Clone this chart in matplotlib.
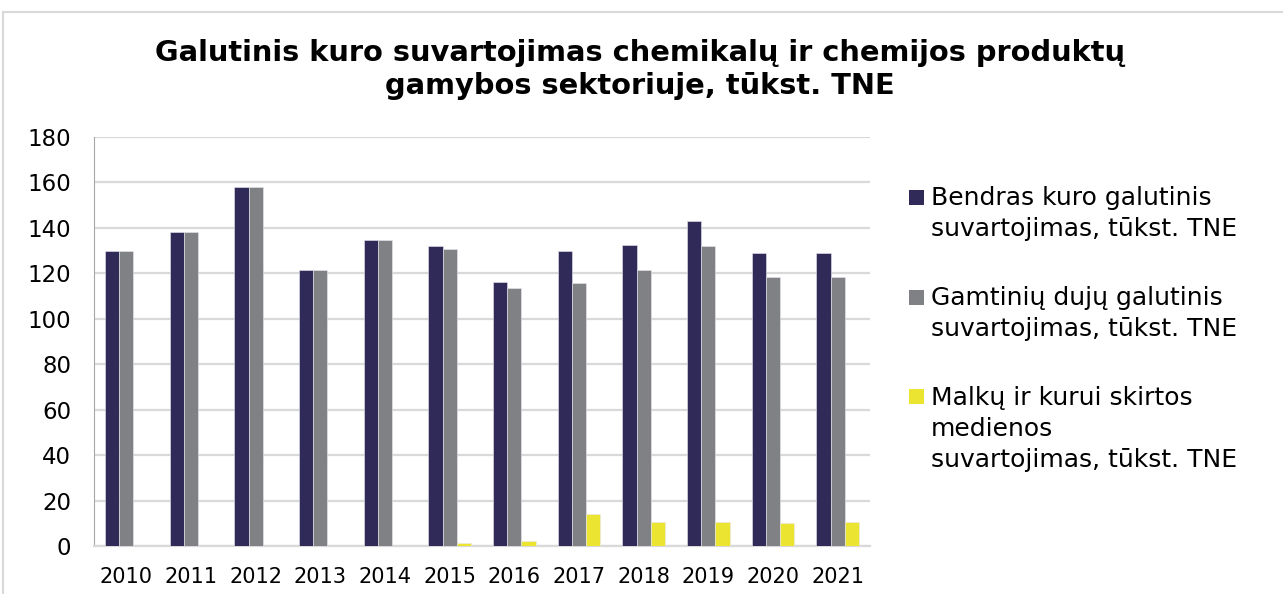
import matplotlib
matplotlib.use("Agg")
import matplotlib.pyplot as plt
import numpy as np
from matplotlib.lines import Line2D
from matplotlib.patches import Rectangle
from matplotlib.legend_handler import HandlerPatch

years = ["2010", "2011", "2012", "2013", "2014", "2015", "2016", "2017", "2018", "2019", "2020", "2021"]
bendras = [130.0, 138.3, 158.1, 121.6, 134.5, 132.2, 116.0, 130.0, 132.5, 143.0, 128.8, 129.1]
dujos = [130.0, 138.3, 158.1, 121.6, 134.5, 130.7, 113.4, 115.6, 121.4, 132.0, 118.4, 118.4]
malkos = [0, 0, 0, 0, 0, 1.2, 2.3, 14.1, 10.7, 10.4, 10.1, 10.4]

labels = ["Bendras kuro galutinis\nsuvartojimas, tūkst. TNE",
          "Gamtinių dujų galutinis\nsuvartojimas, tūkst. TNE",
          "Malkų ir kurui skirtos\nmedienos\nsuvartojimas, tūkst. TNE"]
colors = ["#302a58", "#808185", "#ebe532"]

plt.rcParams['font.family'] = ['DejaVu Sans']

LEG_FS = 18
LEG_LS = 1.37


def top_square(legend, orig_handle, xdescent, ydescent, width, height, fontsize):
    # put the square next to the first line of a multi-line label
    n = orig_handle.get_label().count("\n") + 1
    off = (n - 1) / 2 * LEG_LS * 0.96 * fontsize
    s = 0.6 * fontsize
    cy = -ydescent + height / 2
    return Rectangle((-xdescent, cy - s / 2 + off), s, s)


def first_child(handle, orig):
    handle.update_from(orig.patches[0])
    handle.set_edgecolor("none")


fig = plt.figure(figsize=(12.83, 5.94), dpi=100)
ax = fig.add_axes([94/1283, 1-546/594, (870-94)/1283, (546-137)/594])

x = np.arange(len(years))
w = 0.22
bars = []
for i, (vals, lab) in enumerate(zip([bendras, dujos, malkos], labels)):
    b = ax.bar(x + (i-1)*w, vals, w, color=colors[i], label=lab, zorder=3,
               edgecolor="#e8e8ee", linewidth=0.4)
    bars.append(b)

ax.set_ylim(0, 180)
ax.set_xlim(-0.5, len(years)-0.5)
ax.set_yticks(range(0, 181, 20))
ax.set_xticks(x)
ax.set_xticklabels(years)
ax.tick_params(axis='both', length=0)
ax.tick_params(axis='y', pad=16.5, labelsize=16.5)
ax.tick_params(axis='x', pad=15, labelsize=15)
ax.yaxis.grid(True, color="#d9d9d9", linewidth=1.6, zorder=0)
for s in ["top", "right"]:
    ax.spines[s].set_visible(False)
ax.spines["left"].set_color("#a6a6a6")
ax.spines["bottom"].set_color("#d9d9d9")
ax.spines["bottom"].set_linewidth(1.6)

fig.suptitle("Galutinis kuro suvartojimas chemikalų ir chemijos produktų\ngamybos sektoriuje, tūkst. TNE",
             x=640/1283, y=1-39/594, va='top', fontsize=20.8, fontweight='bold', linespacing=1.22)

hm = {b: HandlerPatch(patch_func=top_square, update_func=first_child) for b in bars}
leg = ax.legend(loc="upper left", bbox_to_anchor=(909/1283, 1-186/594), bbox_transform=fig.transFigure,
                frameon=False, fontsize=LEG_FS, handlelength=0.6, handleheight=0.6, handletextpad=0.28,
                labelspacing=1.8, borderpad=0, borderaxespad=0, handler_map=hm)
for t in leg.get_texts():
    t.set_linespacing(LEG_LS)

# outer chart frame
fig.add_artist(Line2D([3/1283, 1], [1-12/594, 1-12/594], color="#d9d9d9", linewidth=1.5))
fig.add_artist(Line2D([3/1283, 3/1283], [0, 1-12/594], color="#d9d9d9", linewidth=1.5))

fig.savefig("out.png", dpi=100)
